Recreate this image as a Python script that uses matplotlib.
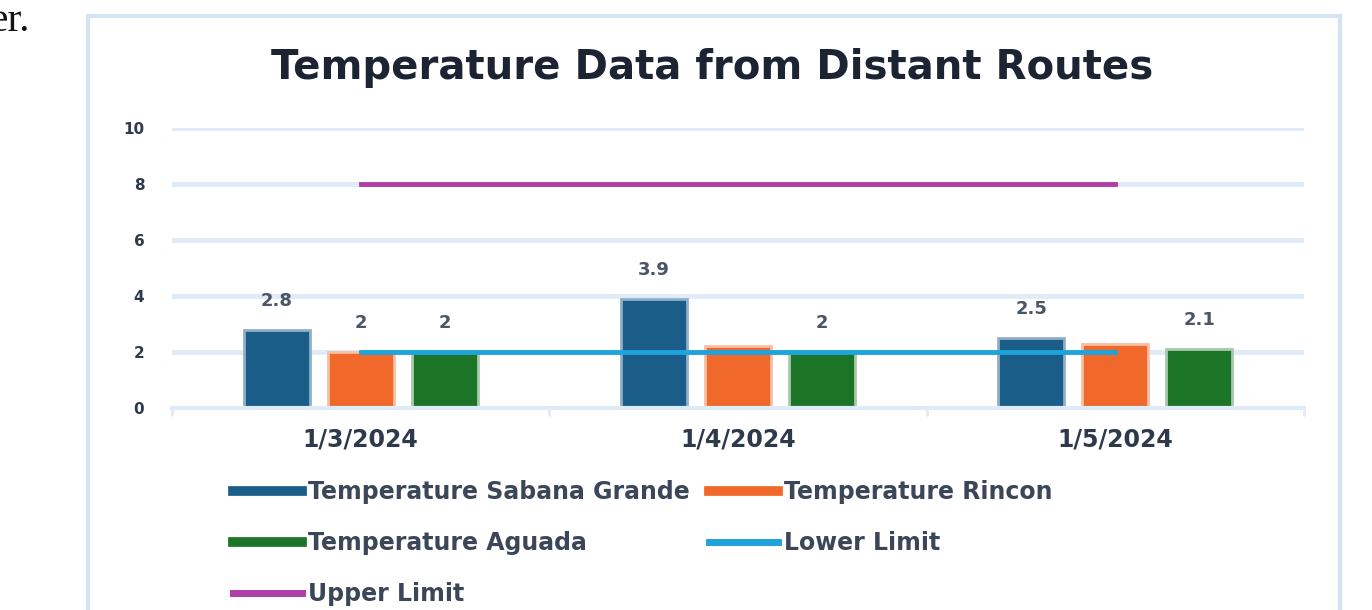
import numpy as np
import matplotlib.pyplot as plt
from matplotlib.lines import Line2D
from matplotlib.patches import Rectangle

dates = ['1/3/2024', '1/4/2024', '1/5/2024']
sabana_grande = [2.8, 3.9, 2.5]
rincon = [2.0, 2.2, 2.3]
aguada = [2.0, 2.0, 2.1]
lower_limit = [2, 2, 2]
upper_limit = [8, 8, 8]

# value labels as shown on the chart (None = no label)
sabana_labels = ['2.8', '3.9', '2.5']
rincon_labels = ['2', None, None]
aguada_labels = ['2', '2', '2.1']

c_sabana = '#1a5d89'
c_rincon = '#f0682a'
c_aguada = '#1c7527'
c_lower = '#1ea4db'
c_upper = '#b03ea6'
c_grid = '#e0ebf8'
c_text = '#2e3a4c'

fig = plt.figure(figsize=(13.72, 6.10), dpi=100)
fig.patch.set_facecolor('white')

# chart frame and cut-off document text
fig.patches.append(Rectangle((0.064, -0.05), 0.913, 1.024, transform=fig.transFigure,
                             fill=False, edgecolor='#d3e4f5', linewidth=3))
fig.text(-0.008, 0.998, 'er.', family='Liberation Serif', fontsize=30, va='top', ha='left',
         color='#111111')

ax = fig.add_axes([0.1254, 0.331, 0.825, 0.459])
x = np.arange(len(dates))
w = 0.175
off = 0.223
series = [(sabana_grande, c_sabana, '#8fb0c8', sabana_labels),
          (rincon, c_rincon, '#f7bfa3', rincon_labels),
          (aguada, c_aguada, '#a9c9ad', aguada_labels)]
for i, (vals, col, edge, labs) in enumerate(series):
    xs = x + (i - 1) * off
    ax.bar(xs, vals, width=w, color=col, edgecolor=edge, linewidth=2, zorder=2)
    for xi, v, lab in zip(xs, vals, labs):
        if lab:
            ax.annotate(lab, (xi, v), xytext=(0, 21), textcoords='offset points',
                        ha='center', va='center', fontsize=13, fontweight='bold', color='#4a5566')

ax.plot(x, lower_limit, color=c_lower, linewidth=3.5, zorder=3)
ax.plot(x, upper_limit, color=c_upper, linewidth=3.5, zorder=3)

ax.set_xlim(-0.5, 2.5)
ax.set_ylim(0, 10)
ax.set_yticks(range(0, 11, 2))
ax.yaxis.grid(True, color=c_grid, linewidth=3.5, zorder=0)
ax.set_axisbelow(True)
for s in ['top', 'right', 'left']:
    ax.spines[s].set_visible(False)
ax.spines['bottom'].set_color(c_grid)
ax.spines['bottom'].set_linewidth(3)
ax.tick_params(axis='y', length=0, pad=20, labelsize=11, labelcolor=c_text)
ax.set_xticks([-0.5, 0.5, 1.5, 2.5], minor=False)
ax.set_xticklabels([])
ax.tick_params(axis='x', which='major', length=6, width=2, color=c_grid)
ax.set_xticks(x, minor=True)
ax.set_xticklabels(dates, minor=True)
ax.tick_params(axis='x', which='minor', length=0, pad=14, labelsize=17, labelcolor=c_text)
for lab in ax.get_xticklabels(minor=True) + ax.get_yticklabels():
    lab.set_fontweight('bold')

fig.text(0.519, 0.888, 'Temperature Data from Distant Routes', ha='center', va='center',
         fontsize=29, fontweight='bold', color='#1c2433')

handles = [
    Line2D([], [], color=c_sabana, linewidth=7),
    Line2D([], [], color=c_aguada, linewidth=7),
    Line2D([], [], color=c_upper, linewidth=5),
    Line2D([], [], color=c_rincon, linewidth=7),
    Line2D([], [], color=c_lower, linewidth=5),
]
labels = ['Temperature Sabana Grande', 'Temperature Aguada', 'Upper Limit',
          'Temperature Rincon', 'Lower Limit']
leg = fig.legend(handles, labels, ncol=2, loc='upper left', bbox_to_anchor=(0.170, 0.213),
                 frameon=False, handlelength=2.9, handletextpad=0.25, columnspacing=0.85,
                 labelspacing=1.15, borderaxespad=0, borderpad=0,
                 prop={'size': 17, 'weight': 'bold'})
for t in leg.get_texts():
    t.set_color('#3b4658')

fig.savefig('out.png', dpi=100)
